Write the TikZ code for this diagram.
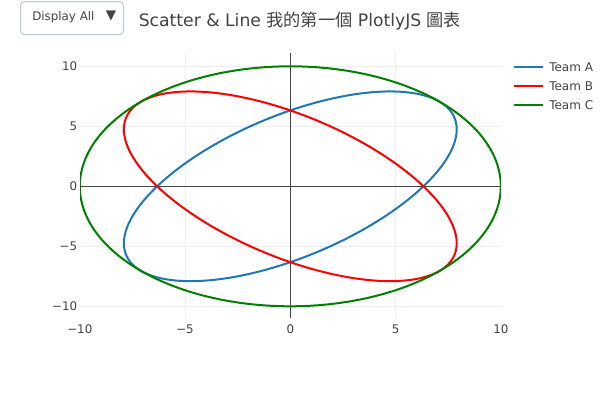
\documentclass[tikz,border=0pt]{standalone}
\usepackage{fontspec}
\setmainfont{DejaVu Sans}
\newfontfamily\cjk{Noto Sans CJK TC}
\newfontfamily\djv{DejaVu Sans}
\definecolor{txt}{HTML}{444444}
\definecolor{gridc}{HTML}{EEEEEE}
\definecolor{teamA}{HTML}{1F77B4}
\definecolor{teamB}{HTML}{FF0000}
\definecolor{teamC}{HTML}{008000}
\definecolor{btnborder}{HTML}{BEC8D9}
\begin{document}
\begin{tikzpicture}[x=0.75pt,y=-0.75pt,
  gridline/.style={draw=gridc,line width=0.75pt},
  zeroline/.style={draw=txt,line width=0.75pt},
  trace/.style={line width=1.5pt,line join=round},
  ticklab/.style={text=txt,font=\fontsize{8.9}{10}\selectfont,inner sep=0pt},
  leglab/.style={text=txt,font=\fontsize{9}{10}\selectfont,inner sep=0pt,anchor=west},
  legline/.style={line width=1.5pt}]
\useasboundingbox[fill=white] (0,0) rectangle (600,400);
% grid
\foreach \v/\n in {10/a,5/b,-5/c,-10/d}{
  \draw[gridline] (80,{186.3-12*\v}) -- (501,{186.3-12*\v});
}
\foreach \v in {-5,5}{
  \draw[gridline] ({290.3+21.05*\v},53) -- ({290.3+21.05*\v},318);
}
\draw[zeroline] (80,186.3) -- (501,186.3);
\draw[zeroline] (290.3,53) -- (290.3,318);
% ticks
\foreach \v/\l in {10/10,5/5,0/0,-5/{−5},-10/{−10}}{
  \node[ticklab,anchor=east] (yt\v) at (77.5,{186.3-12*\v}) {\l};
}
\foreach \v/\l in {-10/{−10},-5/{−5},0/0,5/5,10/10}{
  \node[ticklab] (xt\v) at ({290.3+21.05*\v},329) {\l};
}
% traces
\begin{scope}
\clip (80,53) rectangle (501,318);
\draw[trace,teamA] plot[domain=0:360,samples=240,variable=\t]
  ({290.3+21.05*(10*cos(\t)-5*sin(\t))/sqrt(2)},{186.3-12*(10*cos(\t)+5*sin(\t))/sqrt(2)}) -- cycle;
\draw[trace,teamB] plot[domain=0:360,samples=240,variable=\t]
  ({290.3-21.05*(10*cos(\t)-5*sin(\t))/sqrt(2)},{186.3-12*(10*cos(\t)+5*sin(\t))/sqrt(2)}) -- cycle;
\draw[trace,teamC] plot[domain=0:360,samples=240,variable=\t]
  ({290.3+21.05*10*cos(\t)},{186.3-12*10*sin(\t)}) -- cycle;
\end{scope}
% legend
\coordinate (lA1) at (514,67.3); \coordinate (lA2) at (543,67.3);
\coordinate (lB1) at (514,86.3); \coordinate (lB2) at (543,86.3);
\coordinate (lC1) at (514,105.3); \coordinate (lC2) at (543,105.3);
\draw[legline,teamA] (lA1) -- (lA2);
\draw[legline,teamB] (lB1) -- (lB2);
\draw[legline,teamC] (lC1) -- (lC2);
\node[leglab] (legA) at (549,67.3) {Team A};
\node[leglab] (legB) at (549,86.3) {Team B};
\node[leglab] (legC) at (549,105.3) {Team C};
% title
\node[anchor=west,inner sep=0pt,text=txt,font=\fontsize{12.9}{14}\selectfont] (title) at (138.5,21)
  {Scatter \& Line {\cjk 我的第一個} PlotlyJS {\cjk 圖表}};
% button
\draw[draw=btnborder,line width=0.75pt,rounded corners=3pt,fill=white] (20.5,1.5) rectangle (123.5,34.5);
\node[anchor=west,inner sep=0pt,text=txt,font=\fontsize{8.9}{10}\selectfont] (btn) at (32,17.5) {Display All};
\node[inner sep=0pt,text=txt,font=\djv\fontsize{10}{10}\selectfont] (arrow) at (111,16) {▼};
\end{tikzpicture}
\end{document}
